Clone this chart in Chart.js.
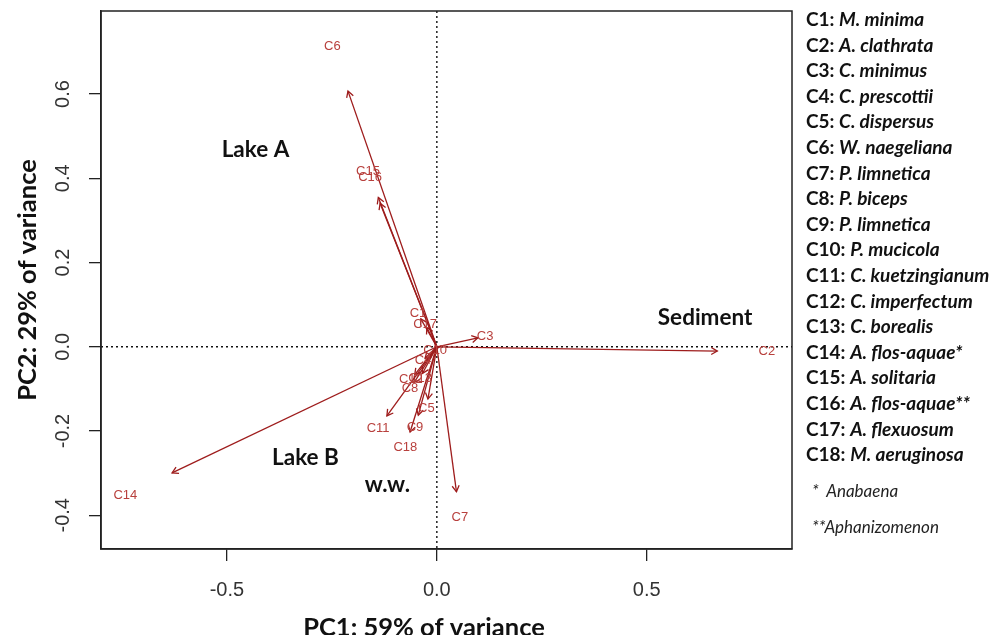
<!DOCTYPE html>
<html lang="en">
<head>
  <meta charset="UTF-8" />
  <title>PCA biplot</title>
  <script src="https://cdn.jsdelivr.net/npm/chart.js"></script>
  <style>
    body {
      margin: 0;
      background-color: #fff;
    }
    .wrap {
      position: relative;
      width: 997px;
      height: 635px;
      overflow: hidden;
    }
    #biplot {
      position: absolute;
      left: 0;
      top: 0;
    }
    .legend {
      position: absolute;
      left: 806px;
      top: 6px;
      font-family: Lato, 'Open Sans', sans-serif;
      font-weight: bold;
      font-size: 19px;
      color: #111;
    }
    .legend div {
      height: 25.6px;
      line-height: 25.6px;
      white-space: nowrap;
    }
    .note {
      position: absolute;
      left: 812px;
      font-family: Lato, 'Open Sans', sans-serif;
      font-style: italic;
      font-size: 17px;
      color: #222;
      white-space: nowrap;
    }
  </style>
</head>
<body>
  <div class="wrap">
    <canvas id="biplot" width="997" height="635"></canvas>
    <!-- SPECIES KEY -->
    <div class="legend" id="legend"></div>
    <div class="note" style="top:480px">*&nbsp; Anabaena</div>
    <div class="note" style="top:516px">**Aphanizomenon</div>
  </div>

  <script>
    // variable coordinates (label positions)
    const codes = ['C1', 'C2', 'C3', 'C4', 'C5', 'C6', 'C7', 'C8', 'C9',
                   'C10', 'C11', 'C12', 'C13', 'C14', 'C15', 'C16', 'C17', 'C18'];
    const species = ['M. minima', 'A. clathrata', 'C. minimus', 'C. prescottii', 'C. dispersus',
                     'W. naegeliana', 'P. limnetica', 'P. biceps', 'P. limnetica', 'P. mucicola',
                     'C. kuetzingianum', 'C. imperfectum', 'C. borealis', 'A. flos-aquae*',
                     'A. solitaria', 'A. flos-aquae**', 'A. flexuosum', 'M. aeruginosa'];
    const pc1 = [-0.045, 0.786, 0.115, -0.033, -0.025, -0.249, 0.055, -0.064, -0.052,
                 -0.004, -0.140, -0.062, -0.040, -0.742, -0.164, -0.159, -0.028, -0.075];
    const pc2 = [0.078, -0.012, 0.025, -0.032, -0.146, 0.714, -0.405, -0.100, -0.191,
                 -0.008, -0.193, -0.078, -0.074, -0.352, 0.417, 0.401, 0.054, -0.238];

    // group annotations
    const noteText = ['Lake A', 'Lake B', 'w.w.', 'Sediment'];
    const noteX = [-0.432, -0.313, -0.118, 0.639];
    const noteY = [0.467, -0.264, -0.328, 0.068];

    const xTicks = [-0.5, 0.0, 0.5];
    const yTicks = [-0.4, -0.2, 0.0, 0.2, 0.4, 0.6];

    const arrowScale = 0.85;   // arrows stop short of the labels, like R's biplot
    const arrowColor = '#9e1c1c';
    const labelColor = '#b8403d';

    document.getElementById('legend').innerHTML = codes.map((c, i) =>
      `<div>${c}: <i>${species[i]}</i></div>`).join('');

    const arrowSets = codes.map((c, i) => ({
      type: 'line',
      label: c,
      data: [{ x: 0, y: 0 }, { x: pc1[i] * arrowScale, y: pc2[i] * arrowScale }],
      borderColor: arrowColor,
      borderWidth: 1.3,
      pointRadius: 0,
      fill: false
    }));

    const labelSet = {
      type: 'scatter',
      label: 'labels',
      data: codes.map((c, i) => ({ x: pc1[i], y: pc2[i] })),
      pointRadius: 0
    };

    const biplotPlugin = {
      id: 'biplot',
      beforeDatasetsDraw(chart) {
        const { ctx, chartArea, scales } = chart;
        const x0 = scales.x.getPixelForValue(0);
        const y0 = scales.y.getPixelForValue(0);
        ctx.save();
        ctx.strokeStyle = '#111';
        ctx.lineWidth = 1.4;
        ctx.setLineDash([2, 3]);
        ctx.beginPath();
        ctx.moveTo(x0, chartArea.top);
        ctx.lineTo(x0, chartArea.bottom);
        ctx.moveTo(chartArea.left, y0);
        ctx.lineTo(chartArea.right, y0);
        ctx.stroke();
        ctx.restore();
      },
      afterDatasetsDraw(chart) {
        const { ctx, scales } = chart;
        ctx.save();
        // arrow heads
        ctx.strokeStyle = arrowColor;
        ctx.lineWidth = 1.3;
        codes.forEach((c, i) => {
          const pts = chart.getDatasetMeta(i).data;
          const a = pts[0], b = pts[1];
          const ang = Math.atan2(b.y - a.y, b.x - a.x);
          const len = 7;
          ctx.beginPath();
          ctx.moveTo(b.x - len * Math.cos(ang - Math.PI / 6), b.y - len * Math.sin(ang - Math.PI / 6));
          ctx.lineTo(b.x, b.y);
          ctx.lineTo(b.x - len * Math.cos(ang + Math.PI / 6), b.y - len * Math.sin(ang + Math.PI / 6));
          ctx.stroke();
        });
        // variable labels
        const lab = chart.getDatasetMeta(codes.length).data;
        ctx.fillStyle = labelColor;
        ctx.font = '13px "Liberation Sans", Arial, sans-serif';
        ctx.textAlign = 'center';
        ctx.textBaseline = 'middle';
        lab.forEach((p, i) => ctx.fillText(codes[i], p.x, p.y));
        // group names
        ctx.fillStyle = '#111';
        ctx.font = 'bold 22.5px Lato, "Open Sans", sans-serif';
        noteText.forEach((t, i) => {
          ctx.fillText(t, scales.x.getPixelForValue(noteX[i]), scales.y.getPixelForValue(noteY[i]));
        });
        ctx.restore();
      },
      afterDraw(chart) {
        const { ctx, chartArea, scales } = chart;
        ctx.save();
        // box
        ctx.strokeStyle = '#222';
        ctx.lineWidth = 1.5;
        ctx.strokeRect(chartArea.left, chartArea.top,
                       chartArea.right - chartArea.left, chartArea.bottom - chartArea.top);
        // rotated y tick labels, R style
        ctx.fillStyle = '#333';
        ctx.font = '20px "Liberation Sans", Arial, sans-serif';
        ctx.textAlign = 'center';
        ctx.textBaseline = 'middle';
        yTicks.forEach(v => {
          ctx.save();
          ctx.translate(63, scales.y.getPixelForValue(v));
          ctx.rotate(-Math.PI / 2);
          ctx.fillText(v.toFixed(1), 0, 0);
          ctx.restore();
        });
        // x axis title
        ctx.fillStyle = '#111';
        ctx.font = 'bold 25.5px Lato, "Open Sans", sans-serif';
        ctx.fillText('PC1: 59% of variance', 424, 628);
        ctx.restore();
      }
    };

    new Chart(document.getElementById('biplot'), {
      type: 'scatter',
      data: { datasets: [...arrowSets, labelSet] },
      options: {
        responsive: false,
        animation: false,
        devicePixelRatio: 1,
        layout: { padding: { top: 11, right: 205, left: 0, bottom: 0 } },
        plugins: {
          legend: { display: false },
          tooltip: { enabled: false }
        },
        scales: {
          x: {
            type: 'linear',
            min: -0.8,
            max: 0.846,
            afterBuildTicks: s => { s.ticks = xTicks.map(v => ({ value: v })); },
            afterFit: s => { s.height = 86; },
            ticks: {
              color: '#333',
              font: { family: '"Liberation Sans", Arial, sans-serif', size: 20 },
              padding: 17,
              maxRotation: 0,
              callback: v => v.toFixed(1)
            },
            grid: { drawOnChartArea: false, tickLength: 12, color: '#222', lineWidth: 1.3 },
            border: { display: true, color: '#222', width: 1.5 }
          },
          y: {
            type: 'linear',
            min: -0.48,
            max: 0.797,
            afterBuildTicks: s => { s.ticks = yTicks.map(v => ({ value: v })); },
            afterFit: s => { s.width = 101; },
            ticks: { display: false },
            grid: { drawOnChartArea: false, tickLength: 12, color: '#222', lineWidth: 1.3 },
            border: { display: true, color: '#222', width: 1.5 },
            title: {
              display: true,
              text: 'PC2: 29% of variance',
              color: '#111',
              font: { family: 'Lato, "Open Sans", sans-serif', size: 25.5, weight: 'bold' },
              padding: { top: 12, bottom: 0 }
            }
          }
        }
      },
      plugins: [biplotPlugin]
    });
  </script>
</body>
</html>
